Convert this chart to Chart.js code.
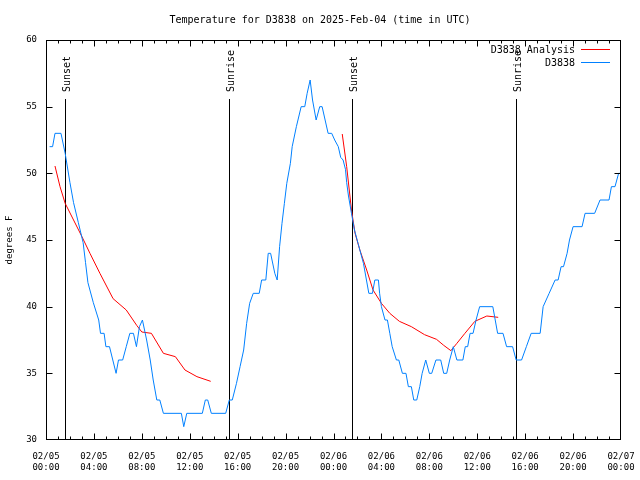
<!DOCTYPE html>
<html>
<head>
<meta charset="utf-8">
<script src="https://cdn.jsdelivr.net/npm/chart.js@4.4.1/dist/chart.umd.min.js"></script>
<style>
  html, body { margin: 0; padding: 0; background: #fff; }
</style>
</head>
<body>
<canvas id="myChart" width="640" height="480"></canvas>
<script>
// hours since 2025-02-05 00:00 UTC
const obsHours = [0.3, 0.55, 0.75, 1.25, 1.6, 2.0, 2.3, 2.7, 3.1, 3.3, 3.5, 3.95, 4.4, 4.55, 4.85, 5.0, 5.3, 5.85, 6.05, 6.4,
  6.7, 7.0, 7.3, 7.55, 7.8, 8.05, 8.4, 8.7, 8.95, 9.25, 9.5, 9.8, 11.3, 11.5, 11.75, 13.05, 13.3, 13.5, 13.8, 15.0,
  15.3, 15.55, 15.9, 16.2, 16.5, 16.75, 17.0, 17.3, 17.8, 18.0, 18.35, 18.55, 18.75, 19.1, 19.3, 19.5, 19.7, 19.9, 20.1, 20.4,
  20.55, 20.9, 21.3, 21.6, 21.8, 22.05, 22.25, 22.55, 22.85, 23.05, 23.3, 23.55, 23.85, 24.1, 24.4, 24.6, 24.8, 25.0, 25.1, 25.25,
  25.5, 25.75, 26.05, 26.5, 26.75, 26.95, 27.25, 27.45, 27.75, 27.85, 28.0, 28.3, 28.5, 28.7, 28.9, 29.25, 29.45, 29.75, 30.05, 30.25,
  30.5, 30.7, 30.95, 31.2, 31.4, 31.7, 32.0, 32.2, 32.55, 32.95, 33.2, 33.45, 33.7, 34.0, 34.3, 34.8, 35.0, 35.2, 35.4, 35.65,
  35.9, 36.2, 37.3, 37.5, 37.7, 38.15, 38.45, 38.95, 39.25, 39.7, 40.1, 40.5, 41.25, 41.5, 42.0, 42.5, 42.75, 43.0, 43.2, 43.5,
  43.7, 44.0, 44.75, 45.0, 45.8, 46.25, 47.0, 47.2, 47.5, 47.8, 48.0];
const obsTemps = [52, 52, 53, 53, 51.5, 49.3, 47.8, 46.3, 44.8, 43.3, 41.8, 40.3, 39, 38, 38, 37, 37, 35, 36, 36,
  37, 38, 38, 37, 38.5, 39, 37.5, 36, 34.5, 33, 33, 32, 32, 31, 32, 32, 33, 33, 32, 32,
  33, 33, 34.25, 35.5, 36.75, 38.75, 40.25, 41, 41, 42, 42, 44, 44, 42.5, 42, 44.5, 46.25, 47.75, 49.25, 50.75,
  52, 53.5, 55, 55, 56, 57, 55.5, 54, 55, 55, 54, 53, 53, 52.5, 52, 51.2, 51, 50.3, 49.3, 48.3,
  47, 45.75, 44.75, 43.25, 42, 41, 41, 42, 42, 41, 40, 39, 39, 38, 37, 36, 36, 35, 35, 34,
  34, 33, 33, 34, 35, 36, 35, 35, 36, 36, 35, 35, 36, 37, 36, 36, 37, 37, 38, 38,
  39, 40, 40, 39, 38, 38, 37, 37, 36, 36, 37, 38, 38, 40, 41, 42, 42, 43, 43, 44,
  45, 46, 46, 47, 47, 48, 48, 49, 49, 50, 50];

const anaHours = [0.75, 1.17, 1.6, 2.3, 3.0, 3.67, 4.5, 5.6, 6.7, 7.57, 8.0, 8.8, 9.8, 10.8, 11.6, 12.6, 13.75,
  19.0,
  24.73, 25.1, 25.5, 25.8, 26.2, 26.77, 27.3, 28.0, 28.7, 29.5, 30.5, 31.6, 32.6, 33.2, 33.8, 34.3, 34.97, 35.8, 36.8, 37.75];
const anaTemps = [50.55, 49, 47.75, 46.5, 45.25, 44, 42.5, 40.6, 39.75, 38.6, 38.1, 38.0, 36.5, 36.25, 35.25, 34.75, 34.4,
  null,
  52.95, 50.5, 47.25, 45.5, 44.25, 42.75, 41.25, 40.25, 39.5, 38.9, 38.5, 37.9, 37.55, 37.1, 36.7, 37.25, 38, 38.9, 39.3, 39.2];

const sunHours = [1.6, 15.3, 25.57, 39.23];
const sunLabels = ['Sunset', 'Sunrise', 'Sunset', 'Sunrise'];

const xTickHours = [0, 4, 8, 12, 16, 20, 24, 28, 32, 36, 40, 44, 48];
const xTickDays = ['02/05', '02/05', '02/05', '02/05', '02/05', '02/05', '02/06', '02/06', '02/06', '02/06', '02/06', '02/06', '02/07'];
const xTickTimes = ['00:00', '04:00', '08:00', '12:00', '16:00', '20:00', '00:00', '04:00', '08:00', '12:00', '16:00', '20:00', '00:00'];
const yTickValues = [30, 35, 40, 45, 50, 55, 60];

const mono = "'DejaVu Sans Mono', 'Liberation Mono', monospace";
const RED = '#ff0000';
const BLUE = '#0080ff';

function toPoints(xs, ys) {
  return xs.map((x, i) => ({ x: x, y: ys[i] }));
}

// frame, inward ticks, sunrise/sunset markers, title, legend
const gnuFrame = {
  id: 'gnuFrame',
  beforeDatasetsDraw(chart) {
    const c = chart.ctx, a = chart.chartArea, xs = chart.scales.x;
    c.save();
    c.strokeStyle = '#000';
    c.lineWidth = 1;
    c.fillStyle = '#000';
    c.font = '10px ' + mono;
    sunHours.forEach((h, i) => {
      const px = Math.round(xs.getPixelForValue(h)) + 0.5;
      c.beginPath();
      c.moveTo(px, 99);
      c.lineTo(px, a.bottom);
      c.stroke();
      c.save();
      c.translate(px + 1.5, 92);
      c.rotate(-Math.PI / 2);
      c.textAlign = 'left';
      c.textBaseline = 'middle';
      c.fillText(sunLabels[i], 0, 0);
      c.restore();
    });
    c.restore();
  },
  afterDatasetsDraw(chart) {
    const c = chart.ctx, a = chart.chartArea, xs = chart.scales.x, ys = chart.scales.y;
    c.save();
    c.strokeStyle = '#000';
    c.lineWidth = 1;
    const L = Math.round(a.left) + 0.5, R = Math.round(a.right) - 0.5;
    const T = Math.round(a.top) + 0.5, B = Math.round(a.bottom) - 0.5;
    c.beginPath();
    // y ticks, both sides
    yTickValues.forEach(v => {
      const py = Math.min(Math.max(Math.round(ys.getPixelForValue(v)) + 0.5, T), B);
      c.moveTo(L, py); c.lineTo(L + 6, py);
      c.moveTo(R, py); c.lineTo(R - 6, py);
    });
    // x ticks every hour, longer every 4 hours
    for (let h = 0; h <= 48; h++) {
      const px = Math.min(Math.max(Math.round(xs.getPixelForValue(h)) + 0.5, L), R);
      const len = h % 4 === 0 ? 6 : 3;
      c.moveTo(px, B); c.lineTo(px, B - len);
      c.moveTo(px, T); c.lineTo(px, T + len);
    }
    c.stroke();
    c.strokeRect(L, T, R - L, B - T);

    // title and y axis label
    c.fillStyle = '#000';
    c.font = '10px ' + mono;
    c.textAlign = 'center';
    c.textBaseline = 'middle';
    c.fillText('Temperature for D3838 on 2025-Feb-04 (time in UTC)', 320, 20);
    c.save();
    c.translate(10, 240);
    c.rotate(-Math.PI / 2);
    c.font = '9px ' + mono;
    c.fillText('degrees F', 0, 0);
    c.restore();

    // legend
    const names = ['D3838 Analysis', 'D3838'];
    const cols = [RED, BLUE];
    c.font = '10px ' + mono;
    c.textAlign = 'right';
    names.forEach((n, i) => {
      const y = 49 + i * 13;
      c.fillStyle = '#000';
      c.fillText(n, 575, y + 1);
      c.strokeStyle = cols[i];
      c.beginPath();
      c.moveTo(581, y + 0.5);
      c.lineTo(610, y + 0.5);
      c.stroke();
    });
    c.restore();
  }
};

const ctx = document.getElementById('myChart').getContext('2d');
const myChart = new Chart(ctx, {
  type: 'line',
  data: {
    datasets: [
      {
        label: 'D3838',
        data: toPoints(obsHours, obsTemps),
        borderColor: BLUE,
        borderWidth: 1,
        pointRadius: 0,
        tension: 0,
        fill: false,
        order: 1
      },
      {
        label: 'D3838 Analysis',
        data: toPoints(anaHours, anaTemps),
        borderColor: RED,
        borderWidth: 1,
        pointRadius: 0,
        tension: 0,
        fill: false,
        spanGaps: false,
        order: 2
      }
    ]
  },
  options: {
    responsive: false,
    animation: false,
    layout: { padding: { top: 40, right: 19, left: 0, bottom: 0 } },
    plugins: {
      legend: { display: false },
      title: { display: false },
      tooltip: { enabled: false }
    },
    scales: {
      x: {
        type: 'linear',
        min: 0,
        max: 48,
        afterFit: s => { s.height = 40; s.paddingLeft = 0; s.paddingRight = 0; },
        afterBuildTicks: s => { s.ticks = xTickHours.map(v => ({ value: v })); },
        grid: { display: false, drawTicks: false },
        border: { display: false },
        ticks: {
          autoSkip: false,
          maxRotation: 0,
          padding: 11,
          color: '#000',
          font: { family: mono, size: 9, lineHeight: 1.25 },
          callback: (v, i) => [xTickDays[i], xTickTimes[i]]
        }
      },
      y: {
        min: 30,
        max: 60,
        afterFit: s => { s.width = 46; s.paddingTop = 0; s.paddingBottom = 0; },
        afterBuildTicks: s => { s.ticks = yTickValues.map(v => ({ value: v })); },
        grid: { display: false, drawTicks: false },
        border: { display: false },
        ticks: {
          padding: 9,
          color: '#000',
          font: { family: mono, size: 9 }
        }
      }
    }
  },
  plugins: [gnuFrame]
});
</script>
</body>
</html>
